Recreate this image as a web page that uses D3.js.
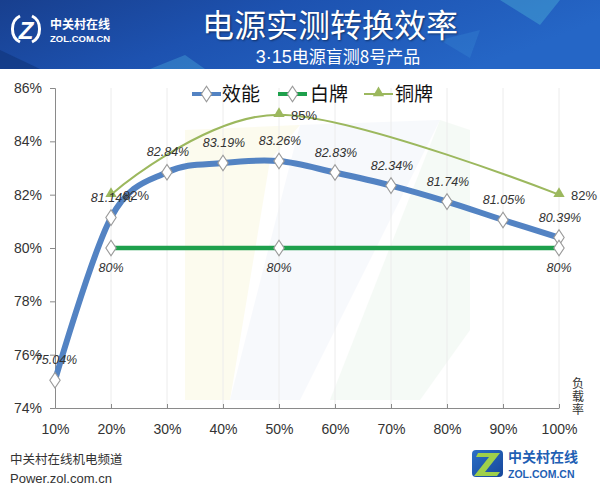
<!DOCTYPE html>
<html>
<head>
<meta charset="utf-8">
<script src="https://cdn.jsdelivr.net/npm/d3@7"></script>
<style>
  html, body { margin: 0; padding: 0; background: #fff; }
  svg { display: block; }
</style>
</head>
<body>
<svg id="chart" width="600" height="493"></svg>
<script>
// ---------- data ----------
const categories = ["10%", "20%", "30%", "40%", "50%", "60%", "70%", "80%", "90%", "100%"];
const efficiency = [75.04, 81.14, 82.84, 83.19, 83.26, 82.83, 82.34, 81.74, 81.05, 80.39];
const whiteBrand = [null, 80, null, null, 80, null, null, null, null, 80];
const bronze = [null, 82, null, null, 85, null, null, null, null, 82];
const yTicks = [74, 76, 78, 80, 82, 84, 86];
const seriesNames = ["效能", "白牌", "铜牌"];

const svg = d3.select("#chart");
const latin = "'Liberation Sans', Arial, sans-serif";
const cjk = "'Noto Sans CJK SC', 'Noto Sans', sans-serif";

const x = d3.scalePoint().domain(categories).range([55, 559]);
const y = d3.scaleLinear().domain([74, 86]).range([408, 88]);

const defs = svg.append("defs");

// ---------- banner ----------
const bg = defs.append("linearGradient").attr("id", "banner").attr("x1", 0).attr("x2", 1).attr("y1", 0).attr("y2", 0.3);
bg.append("stop").attr("offset", "0").attr("stop-color", "#183f8e");
bg.append("stop").attr("offset", "0.45").attr("stop-color", "#1d52b0");
bg.append("stop").attr("offset", "1").attr("stop-color", "#2566c6");
svg.append("rect").attr("x", 0).attr("y", 0).attr("width", 600).attr("height", 69).attr("fill", "url(#banner)");
svg.append("polygon").attr("points", "150,69 185,55 205,69").attr("fill", "#4fb4e0").attr("opacity", 0.35);
svg.append("polygon").attr("points", "500,0 560,0 540,25").attr("fill", "#56c2dc").attr("opacity", 0.35);
svg.append("polygon").attr("points", "440,40 480,30 470,58").attr("fill", "#3d8fd6").attr("opacity", 0.3);
svg.append("polygon").attr("points", "0,50 40,69 0,69").attr("fill", "#0e2f72").attr("opacity", 0.5);

// banner logo
const lg = svg.append("g");
lg.append("path").attr("d", "M20,16 A12,14 0 0 0 20,42").attr("fill", "none").attr("stroke", "#fff").attr("stroke-width", 3);
lg.append("path").attr("d", "M32,16 A12,14 0 0 1 32,42").attr("fill", "none").attr("stroke", "#fff").attr("stroke-width", 3);
lg.append("text").attr("x", 26).attr("y", 39).attr("text-anchor", "middle")
  .attr("font-family", latin).attr("font-weight", "bold").attr("font-style", "italic").attr("font-size", 24)
  .attr("fill", "#fff").text("Z");
lg.append("text").attr("x", 50).attr("y", 29).attr("font-family", cjk).attr("font-weight", "bold")
  .attr("font-size", 12).attr("fill", "#fff").text("中关村在线");
lg.append("text").attr("x", 50).attr("y", 42).attr("font-family", latin).attr("font-weight", "bold")
  .attr("font-size", 9.5).attr("fill", "#fff").text("ZOL.COM.CN");

// titles
svg.append("text").attr("x", 330).attr("y", 37).attr("text-anchor", "middle")
  .attr("font-family", cjk).attr("font-size", 32).attr("fill", "#fff")
  .style("text-shadow", "1px 1px 2px rgba(0,0,0,0.45)")
  .text("电源实测转换效率");
const sub = svg.append("text").attr("x", 338).attr("y", 63).attr("text-anchor", "middle")
  .attr("font-size", 17).attr("fill", "#fff");
sub.append("tspan").attr("font-family", latin).attr("font-size", 18).text("3·15");
sub.append("tspan").attr("font-family", cjk).text("电源盲测8号产品");

// ---------- watermark ----------
const wm = svg.append("g").attr("opacity", 0.3);
wm.append("polygon").attr("points", "185,130 300,125 270,160 230,400 185,400").attr("fill", "#f8f3c8");
wm.append("polygon").attr("points", "300,125 440,120 300,400 230,400").attr("fill", "#e6ecf8");
wm.append("polygon").attr("points", "440,120 470,130 470,330 420,400 330,400").attr("fill", "#e0f0e2");

// ---------- grid & axes ----------
const grid = svg.append("g");
categories.forEach(c => {
  if (c === categories[0]) return;
  grid.append("line").attr("x1", x(c)).attr("x2", x(c)).attr("y1", 88).attr("y2", 408)
    .attr("stroke", "#ececec").attr("stroke-width", 1);
});

const yAxis = svg.append("g").attr("transform", "translate(55,0)")
  .call(d3.axisLeft(y).tickValues(yTicks).tickFormat(d => d + "%").tickSize(5).tickPadding(8));
yAxis.select(".domain").attr("stroke", "#8a8a8a");
yAxis.selectAll(".tick line").attr("stroke", "#8a8a8a");
yAxis.selectAll("text").attr("font-family", latin).attr("font-size", 14).attr("fill", "#333");

const xAxis = svg.append("g").attr("transform", "translate(0,408)")
  .call(d3.axisBottom(x).tickSizeInner(-4).tickSizeOuter(0).tickPadding(16));
xAxis.select(".domain").attr("stroke", "#8a8a8a");
xAxis.selectAll(".tick line").attr("stroke", "#8a8a8a");
xAxis.selectAll("text").attr("font-family", latin).attr("font-size", 14).attr("fill", "#333");

// axis title (vertical)
svg.append("text").attr("x", 578).attr("y", 377)
  .style("writing-mode", "vertical-rl").style("letter-spacing", "1px")
  .attr("font-family", cjk).attr("font-size", 12).attr("fill", "#333").text("负载率");

// ---------- series ----------
const pts = arr => categories.map((c, i) => ({ c, v: arr[i] })).filter(d => d.v !== null);

const effPts = pts(efficiency);
const whitePts = pts(whiteBrand);
const bronzePts = pts(bronze);

const smooth = d3.line().x(d => x(d.c)).y(d => y(d.v)).curve(d3.curveCardinal.tension(0));
const straight = d3.line().x(d => x(d.c)).y(d => y(d.v));

const blue = "#5383c3", green = "#1ea04c", olive = "#9cb85e";

svg.append("path").attr("d", smooth(effPts)).attr("fill", "none").attr("stroke", blue).attr("stroke-width", 6).attr("stroke-linejoin", "round");
svg.append("path").attr("d", straight(whitePts)).attr("fill", "none").attr("stroke", green).attr("stroke-width", 4.5);
svg.append("path").attr("d", smooth(bronzePts)).attr("fill", "none").attr("stroke", olive).attr("stroke-width", 2);

const diamond = d3.symbol().type(d3.symbolDiamond).size(70);
const triangle = d3.symbol().type(d3.symbolTriangle).size(55);

function diamonds(data) {
  svg.append("g").selectAll("path").data(data).join("path")
    .attr("d", diamond).attr("transform", d => `translate(${x(d.c)},${y(d.v)}) scale(1.15,1)`)
    .attr("fill", "#fff").attr("stroke", "#9a9a9a").attr("stroke-width", 1);
}
diamonds(effPts);
diamonds(whitePts);
svg.append("g").selectAll("path").data(bronzePts).join("path")
  .attr("d", triangle).attr("transform", d => `translate(${x(d.c)},${y(d.v) - 1})`)
  .attr("fill", olive);

// labels
svg.append("g").selectAll("text").data(effPts).join("text")
  .attr("x", d => x(d.c) + 1).attr("y", d => y(d.v) - 16).attr("text-anchor", "middle")
  .attr("font-family", latin).attr("font-style", "italic").attr("font-size", 12.5).attr("fill", "#333")
  .text(d => d.v.toFixed(2) + "%");
svg.append("g").selectAll("text").data(whitePts).join("text")
  .attr("x", d => x(d.c)).attr("y", d => y(d.v) + 24).attr("text-anchor", "middle")
  .attr("font-family", latin).attr("font-style", "italic").attr("font-size", 12.5).attr("fill", "#333")
  .text(d => d.v + "%");
svg.append("g").selectAll("text").data(bronzePts).join("text")
  .attr("x", d => x(d.c) + 12).attr("y", d => y(d.v) + 5).attr("text-anchor", "start")
  .attr("font-family", latin).attr("font-size", 13).attr("fill", "#333")
  .text(d => d.v + "%");

// ---------- legend ----------
const legend = svg.append("g");
const legendItems = [
  { name: seriesNames[0], color: blue, w: 4, mark: "d", x0: 192, tx: 222 },
  { name: seriesNames[1], color: green, w: 4, mark: "d", x0: 278, tx: 310 },
  { name: seriesNames[2], color: olive, w: 2, mark: "t", x0: 364, tx: 395 }
];
legendItems.forEach(it => {
  legend.append("line").attr("x1", it.x0).attr("x2", it.x0 + 29).attr("y1", 94).attr("y2", 94)
    .attr("stroke", it.color).attr("stroke-width", it.w);
  if (it.mark === "d") {
    legend.append("path").attr("d", diamond).attr("transform", `translate(${it.x0 + 14.5},94) scale(1.15,1)`)
      .attr("fill", "#fff").attr("stroke", "#9a9a9a");
  } else {
    legend.append("path").attr("d", triangle).attr("transform", `translate(${it.x0 + 14.5},93)`).attr("fill", olive);
  }
  legend.append("text").attr("x", it.tx).attr("y", 101).attr("font-family", cjk).attr("font-size", 19)
    .attr("fill", "#111").text(it.name);
});

// ---------- footer ----------
svg.append("text").attr("x", 10).attr("y", 464).attr("font-family", cjk).attr("font-size", 12.5)
  .attr("fill", "#333").text("中关村在线机电频道");
svg.append("text").attr("x", 10).attr("y", 483).attr("font-family", latin).attr("font-size", 13)
  .attr("fill", "#333").text("Power.zol.com.cn");

const fl = svg.append("g");
const lgr = defs.append("linearGradient").attr("id", "zlogo").attr("x1", 0).attr("x2", 1).attr("y1", 0).attr("y2", 1);
lgr.append("stop").attr("offset", "0").attr("stop-color", "#2a6fc7");
lgr.append("stop").attr("offset", "1").attr("stop-color", "#17479a");
fl.append("rect").attr("x", 472).attr("y", 450).attr("width", 31).attr("height", 27).attr("rx", 4).attr("fill", "url(#zlogo)");
fl.append("polygon").attr("points", "478,453 500,453 485,472 500,472 497,476 474,476 489,457 476,457")
  .attr("fill", "#9fd04a");
fl.append("text").attr("x", 508).attr("y", 462).attr("font-family", cjk).attr("font-weight", "bold")
  .attr("font-size", 14).attr("fill", "#1f5fb4").text("中关村在线");
fl.append("text").attr("x", 508).attr("y", 478).attr("font-family", latin).attr("font-weight", "bold")
  .attr("font-size", 10.5).attr("fill", "#1f5fb4").text("ZOL.COM.CN");
</script>
</body>
</html>
